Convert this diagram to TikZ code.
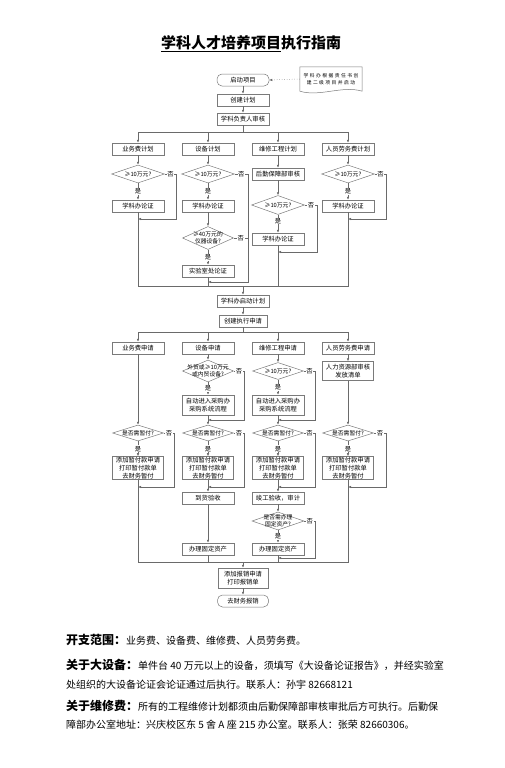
\documentclass[tikz,border=0pt]{standalone}
\usepackage{fontspec}
\setmainfont{Noto Sans CJK SC}
\newfontfamily\notefont[LetterSpace=30]{Noto Sans CJK SC}
\usetikzlibrary{arrows.meta,shapes.geometric}
\definecolor{Edge}{HTML}{7A7A7A}
\definecolor{Wire}{HTML}{6A6A6A}
\newcommand{\chartfont}{\fontsize{6.3}{7.6}\selectfont}
\newcommand{\decfont}{\fontsize{5.8}{7}\selectfont}
\newcommand{\headfont}{\fontsize{12}{14}\selectfont\bfseries}
\newcommand{\bodyfont}{\fontsize{10}{12}\selectfont}

\begin{document}
\begin{tikzpicture}[x=1pt,y=-1pt,font=\chartfont,
  box/.style={draw=Edge,line width=0.5pt,minimum width=52pt,minimum height=12pt,inner sep=1pt,align=center},
  term/.style={box,rounded corners=5pt},
  dec/.style={diamond,draw=Edge,line width=0.5pt,aspect=3,inner sep=-6pt,minimum width=53pt,minimum height=18pt,align=center,font=\decfont},
  lbl/.style={fill=white,inner sep=0.6pt},
  wire/.style={draw=Wire,line width=0.5pt},
  arr/.style={wire,-{Latex[length=3pt,width=2.5pt]}}]
\useasboundingbox (0,0) rectangle (504,768);
\node[font={\fontsize{15}{18}\selectfont\bfseries}] (title) at (251,44) {\underline{学科人才培养项目}执行指南};

% planning stage
\node[term] (start) at (243,80) {启动项目};
\node[minimum width=62pt,minimum height=24pt,align=center,font={\notefont\fontsize{4.8}{7}\selectfont}] (note) at (331,79) {学科办根据责任书创\\建二级项目并启动};
\draw[Edge,line width=0.5pt] (note.south west) -- (note.north west) -- (note.north east) -- (note.south east) .. controls +(-20,-6) and +(20,6) .. (note.south west);
\draw[arr,dotted] (note.west) -- (start.east);
\node[box] (plan) at (243,100) {创建计划};
\node[box] (review) at (243,119) {学科负责人审核};
\draw[arr] (start) -- (plan);
\draw[arr] (plan) -- (review);
\coordinate (j1) at (243,132);
\draw[wire] (review) -- (j1);
\foreach \n/\x/\t in {p1/138/业务费计划,p2/208/设备计划,p3/278/维修工程计划,p4/348/人员劳务费计划}{
  \node[box] (\n) at (\x,149) {\t};
  \draw[arr] (j1) -| (\n);
}

% business
\node[dec] (d1) at (138,174) {≥10万元?};
\node[box] (b1) at (138,206) {学科办论证};
\coordinate (m1) at (138,219);
\draw[arr] (p1) -- (d1);
\draw[arr] (d1) -- node[lbl]{是} (b1);
\draw[arr] (d1.east) -- node[lbl]{否} ++(11.5,0) |- (m1);

% equipment
\node[dec] (d2) at (208,174) {≥10万元?};
\node[box] (b2) at (208,206) {学科办论证};
\node[dec,minimum width=51pt,minimum height=23pt] (d2b) at (208,238) {≥40万元的\\仪器设备?};
\node[box] (x2) at (208,271) {实验室处论证};
\coordinate (k2) at (248,282);
\coordinate (m2) at (208,282);
\draw[arr] (p2) -- (d2);
\draw[arr] (d2) -- node[lbl]{是} (b2);
\draw[arr] (b2) -- (d2b);
\draw[arr] (d2b) -- node[lbl]{是} (x2);
\draw[arr] (d2.east) -- node[lbl]{否} (d2.east -| k2) -- (k2) -- (m2);
\draw[wire] (d2b.east) -- node[lbl]{否} (d2b.east -| k2);

% repair
\node[box] (r3) at (278,174) {后勤保障部审核};
\node[dec,minimum height=19pt] (d3) at (278,205) {≥10万元?};
\node[box] (b3) at (278,239) {学科办论证};
\coordinate (m3) at (278,252);
\draw[arr] (p3) -- (r3);
\draw[arr] (r3) -- (d3);
\draw[arr] (d3) -- node[lbl,pos=0.35]{是} (b3);
\draw[arr] (d3.east) -- node[lbl]{否} ++(12.5,0) |- (m3);

% labour
\node[dec] (d4) at (348,174) {≥10万元?};
\node[box] (b4) at (348,206) {学科办论证};
\coordinate (m4) at (348,219);
\draw[arr] (p4) -- (d4);
\draw[arr] (d4) -- node[lbl]{是} (b4);
\draw[arr] (d4.east) -- node[lbl]{否} ++(11.5,0) |- (m4);

\coordinate (j2) at (243,286);
\draw[wire] (b1) |- (j2);
\draw[wire] (x2) |- (j2);
\draw[wire] (b3) |- (j2);
\draw[wire] (b4) |- (j2);

% execution stage
\node[box] (launch) at (243,301) {学科办启动计划};
\node[box,minimum width=48pt] (apply) at (243,321) {创建执行申请};
\draw[arr] (j2) -- (launch);
\draw[arr] (launch) -- (apply);
\coordinate (j3) at (243,332);
\draw[wire] (apply) -- (j3);
\foreach \n/\x/\t in {a1/138/业务费申请,a2/208/设备申请,a3/278/维修工程申请,a4/348/人员劳务费申请}{
  \node[box] (\n) at (\x,348) {\t};
  \draw[arr] (j3) -| (\n);
}

\node[dec,minimum width=51pt,minimum height=22pt] (e2) at (208,371) {外贸或≥10万元\\或内贸设备?};
\node[box,minimum height=20pt] (s2) at (208,405) {自动进入采购办\\采购系统流程};
\coordinate (m6) at (208,420);
\draw[arr] (a2) -- (e2);
\draw[arr] (e2) -- node[lbl]{是} (s2);
\draw[arr] (e2.east) -- node[lbl]{否} ++(10.5,0) |- (m6);

\node[dec,minimum width=51pt,minimum height=17pt] (e3) at (278,371) {≥10万元?};
\node[box,minimum height=20pt] (s3) at (278,405) {自动进入采购办\\采购系统流程};
\coordinate (m7) at (278,420);
\draw[arr] (a3) -- (e3);
\draw[arr] (e3) -- node[lbl]{是} (s3);
\draw[arr] (e3.east) -- node[lbl]{否} ++(11.5,0) |- (m7);

\node[box,minimum width=51pt,minimum height=19pt] (h4) at (348,371) {人力资源部审核\\发放清单};
\draw[arr] (a4) -- (h4);

\foreach \n/\x/\w in {1/138/10.5,2/208/10.5,3/278/11.5,4/348/12.5}{
  \node[dec,minimum width=51pt,minimum height=16pt] (q\n) at (\x,433) {是否需暂付?};
  \node[box,minimum width=51pt,minimum height=23pt] (t\n) at (\x,468) {添加暂付款申请\\打印暂付款单\\去财务暂付};
  \coordinate (n\n) at (\x,487);
  \draw[arr] (q\n) -- node[lbl]{是} (t\n);
  \draw[arr] (q\n.east) -- node[lbl]{否} ++(\w,0) |- (n\n);
}
\draw[arr] (a1) -- (q1);
\draw[arr] (s2) -- (q2);
\draw[arr] (s3) -- (q3);
\draw[arr] (h4) -- (q4);

\node[box] (g2) at (208,498) {到货验收};
\node[box] (f2) at (208,549) {办理固定资产};
\draw[arr] (t2) -- (g2);
\draw[arr] (g2) -- (f2);

\node[box] (g3) at (278,498) {竣工验收，审计};
\node[dec,minimum width=52pt,minimum height=18pt] (d5) at (278,521) {是否需办理\\固定资产?};
\node[box] (f3) at (278,549) {办理固定资产};
\coordinate (m8) at (278,558);
\draw[arr] (t3) -- (g3);
\draw[arr] (g3) -- (d5);
\draw[arr] (d5) -- node[lbl]{是} (f3);
\draw[arr] (d5.east) -- node[lbl]{否} ++(11,0) |- (m8);

\coordinate (j4) at (243,562);
\draw[wire] (t1) |- (j4);
\draw[wire] (f2) |- (j4);
\draw[wire] (f3) |- (j4);
\draw[wire] (t4) |- (j4);
\node[box,minimum width=50pt,minimum height=20pt] (reimb) at (243,578) {添加报销申请\\打印报销单};
\node[term,minimum width=51pt] (finish) at (243,601) {去财务报销};
\draw[arr] (j4) -- (reimb);
\draw[arr] (reimb) -- (finish);

% notes
\node[anchor=base west,inner sep=0] (range) at (66,644.5) {{\headfont 开支范围：}{\bodyfont 业务费、设备费、维修费、人员劳务费。}};
\node[anchor=base west,inner sep=0] (bigdev) at (66,669.5) {{\headfont 关于大设备：}{\bodyfont 单件台 40 万元以上的设备，须填写《大设备论证报告》，并经实验室}};
\node[anchor=base west,inner sep=0,font=\bodyfont] (bigdevb) at (66,688) {处组织的大设备论证会论证通过后执行。联系人：孙宇 82668121};
\node[anchor=base west,inner sep=0] (repair) at (66,710) {{\headfont 关于维修费：}{\bodyfont 所有的工程维修计划都须由后勤保障部审核审批后方可执行。后勤保}};
\node[anchor=base west,inner sep=0,font=\bodyfont] (repairb) at (66,728) {障部办公室地址：兴庆校区东 5 舍 A 座 215 办公室。联系人：张荣 82660306。};
\end{tikzpicture}
\end{document}
